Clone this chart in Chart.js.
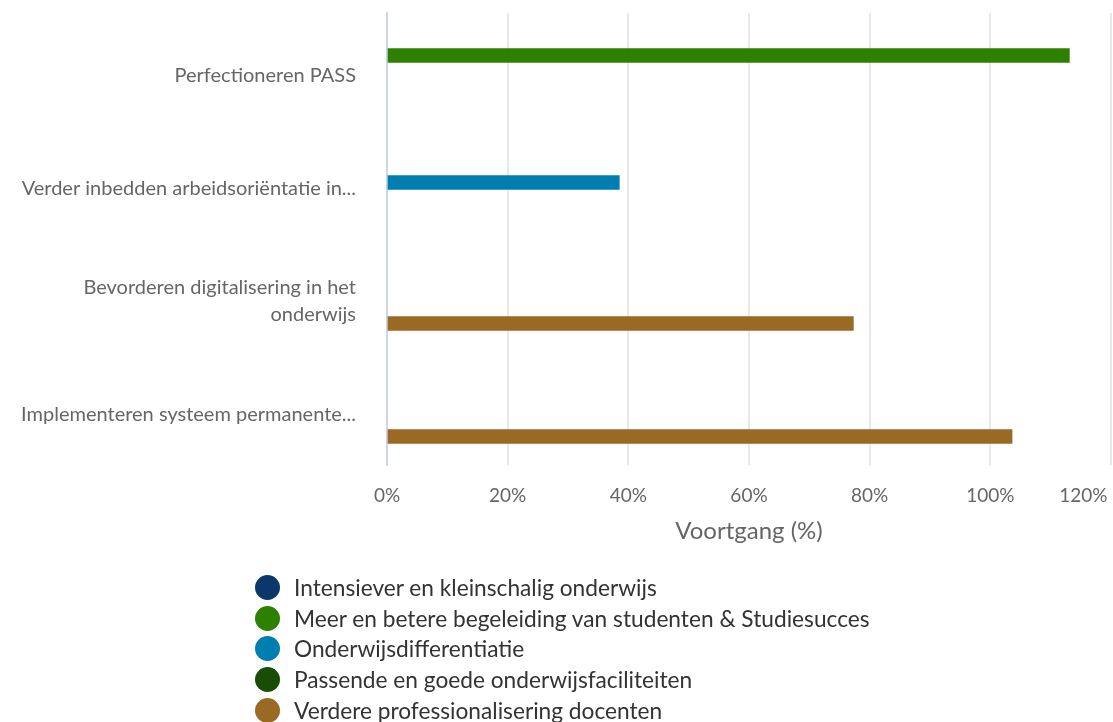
<!DOCTYPE html>
<html>
<head>
<meta charset="utf-8">
<script src="https://cdn.jsdelivr.net/npm/chart.js@4.4.1/dist/chart.umd.min.js"></script>
<style>
  body { margin: 0; background: #fff; }
  #wrap { position: relative; width: 1113px; height: 722px; }
  #legend { position: absolute; left: 255px; top: 572px; font-family: Lato, sans-serif; font-size: 22.7px; color: #333; }
  .item { height: 30.75px; display: flex; align-items: center; }
  .dot { width: 25px; height: 25px; border-radius: 50%; margin-right: 14px; flex: none; }
</style>
</head>
<body>
<div id="wrap">
  <canvas id="myChart" width="1113" height="722"></canvas>
  <div id="legend"></div>
</div>
<script>
  // categories (y axis)
  var labels = [
    'Perfectioneren PASS',
    'Verder inbedden arbeidsoriëntatie in...',
    ['Bevorderen digitalisering in het', 'onderwijs'],
    'Implementeren systeem permanente...'
  ]
  var seriesNames = [
    'Intensiever en kleinschalig onderwijs',
    'Meer en betere begeleiding van studenten & Studiesucces',
    'Onderwijsdifferentiatie',
    'Passende en goede onderwijsfaciliteiten',
    'Verdere professionalisering docenten'
  ]
  var seriesColors = ['#0b376b', '#2e8000', '#007eb0', '#174d05', '#9a6a24']
  // voortgang in %, one array per thema
  var intensiever = [null, null, null, null]
  var begeleiding = [113.1, null, null, null]
  var differentiatie = [null, 38.5, null, null]
  var faciliteiten = [null, null, null, null]
  var professionalisering = [null, null, 77.3, 103.6]
  var seriesValues = [intensiever, begeleiding, differentiatie, faciliteiten, professionalisering]
  var xMin = 0, xMax = 120, xStep = 20

  var datasets = []
  for (i = 0; i < seriesNames.length; i++) {
    datasets.push({
      label: seriesNames[i],
      data: seriesValues[i],
      backgroundColor: seriesColors[i],
      borderWidth: 0,
      barThickness: 14
    })
  }

  var ctx = document.getElementById('myChart')
  var myChart = new Chart(ctx, {
    type: 'bar',
    data: { labels: labels, datasets: datasets },
    options: {
      indexAxis: 'y',
      responsive: false,
      animation: false,
      layout: { padding: { top: 13, right: 2, left: 0, bottom: 174 } },
      plugins: { legend: { display: false }, tooltip: { enabled: false } },
      scales: {
        x: {
          min: xMin,
          max: xMax,
          ticks: {
            stepSize: xStep,
            padding: 19,
            color: '#666',
            font: { family: 'Lato', size: 19 },
            callback: function (v) {
              // last label is pulled inside the canvas
              return v === xMax ? v + '%\u2007\u2007\u2007\u2007\u2007' : v + '%'
            }
          },
          grid: {
            drawTicks: false,
            lineWidth: 2,
            color: function (c) { return c.tick && c.tick.value === 0 ? 'rgba(0,0,0,0)' : '#e8e8e8' }
          },
          border: { display: false },
          title: {
            display: true,
            text: 'Voortgang (%)',
            color: '#666',
            font: { family: 'Lato', size: 24 },
            padding: { top: 0, bottom: 2 }
          },
          afterFit: function (s) { s.height = 83; s.paddingRight = 0; s.paddingLeft = 0 }
        },
        y: {
          ticks: {
            padding: 31,
            labelOffset: 6,
            color: '#666',
            font: { family: 'Lato', size: 20, lineHeight: 1.35 }
          },
          grid: { display: false, drawTicks: false },
          border: { display: true, color: '#ccd6eb', width: 2 },
          afterFit: function (s) { s.width = 387; s.paddingTop = 0; s.paddingBottom = 0 }
        }
      }
    }
  })

  // legend, one thema per line
  var legend = document.getElementById('legend')
  for (i = 0; i < seriesNames.length; i++) {
    var row = document.createElement('div')
    row.className = 'item'
    row.innerHTML = '<span class="dot" style="background:' + seriesColors[i] + '"></span>'
    row.appendChild(document.createTextNode(seriesNames[i]))
    legend.appendChild(row)
  }
</script>
</body>
</html>
